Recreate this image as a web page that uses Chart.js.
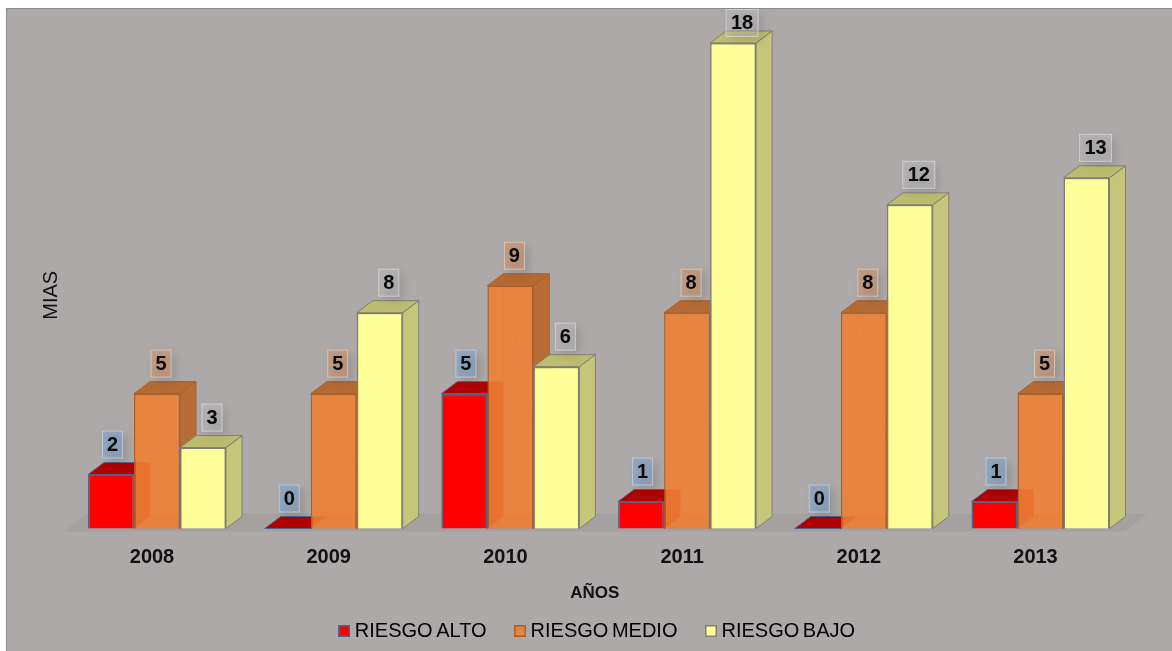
<!DOCTYPE html>
<html><head><meta charset="utf-8">
<style>
html,body{margin:0;padding:0;background:#fff;overflow:hidden}
#frame{position:absolute;left:6px;top:8px;width:1166px;height:643px;background:#ada9a9;box-shadow:inset 1px 1px 0 #8f8b8b}
canvas{position:absolute;left:0;top:0}
</style>
<script src="https://cdn.jsdelivr.net/npm/chart.js@4"></script>
</head><body>
<div id="frame"></div>
<div style="position:absolute;left:0;top:0;width:1172px;height:651px"><canvas id="c" width="1172" height="651"></canvas></div>
<script>
const categories = ['2008','2009','2010','2011','2012','2013'];
const riesgoAlto = [2,0,5,1,0,1];
const riesgoMedio = [5,5,9,8,8,5];
const riesgoBajo = [3,8,6,18,12,13];
const xTitle = 'AÑOS';
const yTitle = 'MIAS';

const FONT = '"Liberation Sans", Arial, sans-serif';
const DX = 16, DY = 12;
const styles = [
  {front:'#ff0000', edge:'#4f6386', top:'#b00000', side:'#b00000', back:null, label:'rgba(125,165,210,.55)', lx:1.5},
  {front:'rgba(238,127,51,.9)', edge:'#a8602c', top:'#b56a33', side:'#b86c36', back:'rgba(200,95,30,.35)', label:'rgba(215,145,100,.5)', lx:4},
  {front:'#ffff99', edge:'#7f7f70', top:'#bcbc70', side:'#c6c67a', back:null, label:'rgba(190,190,190,.42)', lx:9}
];

function legendIcon(s){
  const k = document.createElement('canvas'); k.width = 12; k.height = 12;
  const g = k.getContext('2d');
  g.fillStyle = s.front; g.fillRect(0,0,12,12);
  g.strokeStyle = s.edge; g.lineWidth = 1.5; g.strokeRect(.75,.75,10.5,10.5);
  return k;
}
function poly(ctx, pts, fill, stroke){
  ctx.beginPath();
  pts.forEach((p,i)=> i ? ctx.lineTo(p[0],p[1]) : ctx.moveTo(p[0],p[1]));
  ctx.closePath();
  if (fill){ ctx.fillStyle = fill; ctx.fill(); }
  if (stroke){ ctx.strokeStyle = stroke; ctx.lineWidth = 1; ctx.stroke(); }
}
function setSpacing(chart){
  chart.ctx.wordSpacing = '-2px';
}
function drawFaces(ctx, meta, s){
  ctx.save();
  ctx.lineJoin = 'round';
  meta.data.forEach(el=>{
    const {x,y,width,base} = el.getProps(['x','y','width','base'],true);
    const l = x-width/2, r = x+width/2;
    if (s.back){
      poly(ctx, [[l,base],[r,base],[r+DX,base-DY],[l+DX,base-DY]], s.back);
      poly(ctx, [[l+DX,y-DY],[l+DX,base-DY],[r+DX,base-DY]], null, 'rgba(190,95,35,.45)');
    }
    poly(ctx, [[r,y],[r+DX,y-DY],[r+DX,base-DY],[r,base]], s.side, s.edge);
    poly(ctx, [[l,y],[l+DX,y-DY],[r+DX,y-DY],[r,y]], s.top, s.edge);
  });
  ctx.restore();
}
function drawValueLabels(chart){
  const ctx = chart.ctx;
  chart.data.datasets.forEach((ds,i)=>{
    const s = styles[i];
    chart.getDatasetMeta(i).data.forEach((el,j)=>{
      const text = String(ds.data[j]);
      ctx.save();
      ctx.font = 'bold 20px '+FONT;
      const w = text.length>1 ? 33 : 21, h = 28;
      const cx = el.x + s.lx, cy = Math.max(23, el.y-30);
      ctx.save();
      ctx.shadowColor = 'rgba(0,0,0,.25)'; ctx.shadowBlur = 8; ctx.shadowOffsetX = 4; ctx.shadowOffsetY = 4;
      ctx.fillStyle = s.label;
      ctx.fillRect(cx-w/2, cy-h/2, w, h);
      ctx.restore();
      ctx.strokeStyle = 'rgba(230,230,230,.55)'; ctx.lineWidth = 1;
      ctx.strokeRect(cx-w/2+.5, cy-h/2+.5, w-1, h-1);
      ctx.fillStyle = '#0a0a0a'; ctx.textAlign='center'; ctx.textBaseline='middle';
      ctx.fillText(text, cx, cy+.5);
      ctx.restore();
    });
  });
}
const threeD = {
  id:'threeD',
  beforeLayout: setSpacing,
  beforeDraw: setSpacing,
  afterLayout(chart){
    // nudge axis titles and legend to the reference's slightly off-centre positions
    const shift = (scale,dx,dy)=>{
      const orig = scale.drawTitle;
      scale.drawTitle = function(){ const c=this.ctx; c.save(); c.translate(dx,dy); orig.call(this); c.restore(); };
    };
    shift(chart.scales.y, 0, 23);
    shift(chart.scales.x, -4, 0);
    chart.legend.left += 35; chart.legend.right += 35;
  },
  beforeDatasetsDraw(chart){
    const {left,right} = chart.chartArea, y0 = chart.scales.y.getPixelForValue(0), ctx = chart.ctx;
    poly(ctx, [[left-4,y0+3],[left+17,y0-15],[right+19,y0-15],[right-4,y0+3]], '#a5a1a1');
    // back-to-front painting: left series first so the translucent orange shows it through
    chart.data.datasets.forEach((ds,i)=>{
      const meta = chart.getDatasetMeta(i);
      drawFaces(ctx, meta, styles[i]);
      meta.controller.draw();
    });
    drawValueLabels(chart);
    return false;
  }
};

const seriesLabels = ['RIESGO ALTO','RIESGO MEDIO','RIESGO BAJO'];
const seriesValues = [riesgoAlto,riesgoMedio,riesgoBajo];
new Chart(document.getElementById('c'),{
  type:'bar',
  plugins:[threeD],
  data:{labels:categories,datasets:seriesValues.map((data,i)=>({
    label:seriesLabels[i], data,
    backgroundColor:styles[i].front, borderColor:styles[i].edge, borderWidth:1.5,
    categoryPercentage:138/176.7, barPercentage:1, clip:false
  }))},
  options:{
    responsive:false, animation:false, events:[],
    layout:{padding:{top:16,right:43.15,left:0,bottom:0}},
    plugins:{
      tooltip:{enabled:false},
      legend:{position:'bottom',labels:{
        color:'#111', font:{family:FONT,size:20}, padding:33, usePointStyle:true, pointStyleWidth:1, boxHeight:12,
        generateLabels(chart){
          return chart.data.datasets.map((d,i)=>({text:d.label,pointStyle:legendIcon(styles[i]),datasetIndex:i,hidden:false,lineWidth:0}));
        }
      }}
    },
    scales:{
      x:{
        grid:{display:false}, border:{display:false},
        afterFit(s){ s.height = 59.5; },
        ticks:{color:'#111',font:{family:FONT,size:20,weight:'bold'},labelOffset:-5,padding:9,maxRotation:0,autoSkip:false},
        title:{display:true,text:xTitle,color:'#111',font:{family:FONT,size:17,weight:'bold'},padding:{top:0,bottom:-16}}
      },
      y:{
        min:0,max:19,
        grid:{display:false}, border:{display:false},
        afterFit(s){ s.width = 68.65; },
        ticks:{display:false},
        title:{display:true,text:yTitle,color:'#111',font:{family:FONT,size:20},padding:{top:39,bottom:39}}
      }
    }
  }
});
</script>
</body></html>
